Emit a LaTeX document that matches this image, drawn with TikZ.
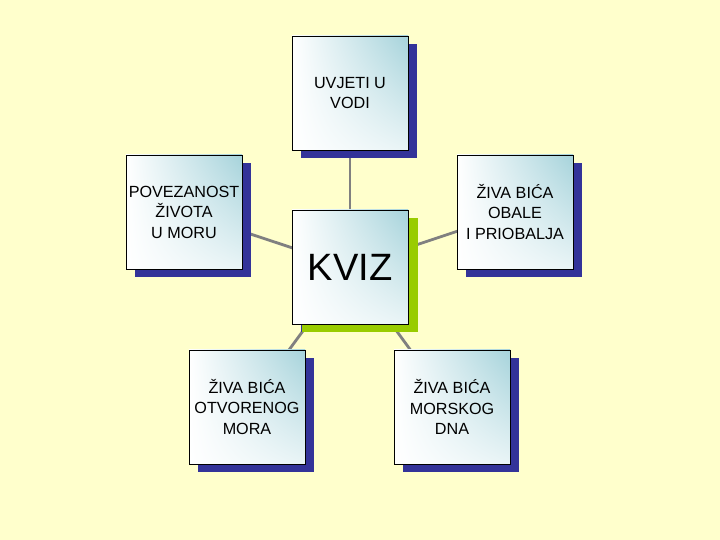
\documentclass[tikz,border=0pt]{standalone}
\usepackage{fontspec}
\setmainfont{Liberation Sans}
\usepackage{tikz}
\usetikzlibrary{shadows,shadings,backgrounds,positioning}
\definecolor{pozadina}{HTML}{FFFFCC}
\definecolor{sjena}{HTML}{333399}
\definecolor{zelena}{HTML}{99CC00}
\definecolor{tirkiz}{HTML}{A6D3DB}
\definecolor{veza}{HTML}{808080}
\tikzset{
  tema/.style={draw=black, line width=0.6pt, minimum width=3.48cm, minimum height=3.42cm,
    align=center, font=\fontsize{13.8}{17.5}\selectfont, inner sep=1pt,
    upper right=tirkiz, upper left=white, lower left=white, lower right=white!75!tirkiz,
    drop shadow={shadow xshift=0.28cm, shadow yshift=-0.24cm, fill=sjena, opacity=1}},
  glavni/.style={tema, font=\fontsize{32.5}{38}\selectfont,
    drop shadow={shadow xshift=0.3cm, shadow yshift=-0.24cm, fill=zelena, opacity=1}},
  spoj/.style={draw=veza, line width=2.4pt}
}
\begin{document}
\begin{tikzpicture}[x=0.03cm, y=-0.03cm]
        \useasboundingbox (0,0) rectangle (720,540);

        \node[glavni] (kviz) at (350,267) {KVIZ};
        \node[tema] (uvjeti) at (350,93) {UVJETI U\\VODI};
        \node[tema] (povezanost) at (184,212) {POVEZANOST\\ŽIVOTA\\U MORU};
        \node[tema] (obala) at (515,212) {ŽIVA BIĆA\\OBALE\\I PRIOBALJA};
        \node[tema] (otvoreno) at (247,407) {ŽIVA BIĆA\\OTVORENOG\\MORA};
        \node[tema] (dno) at (452,407) {ŽIVA BIĆA\\MORSKOG\\DNA};

        \begin{scope}[on background layer]
            \fill[pozadina] (0,0) rectangle (720,540);
            \draw[spoj] (uvjeti.center) -- (kviz.center);
            \draw[spoj] (povezanost.center) -- (kviz.center);
            \draw[spoj] (obala.center) -- (kviz.center);
            \draw[spoj] (otvoreno.center) -- (kviz.center);
            \draw[spoj] (dno.center) -- (kviz.center);
        \end{scope}
    \end{tikzpicture}
\end{document}
